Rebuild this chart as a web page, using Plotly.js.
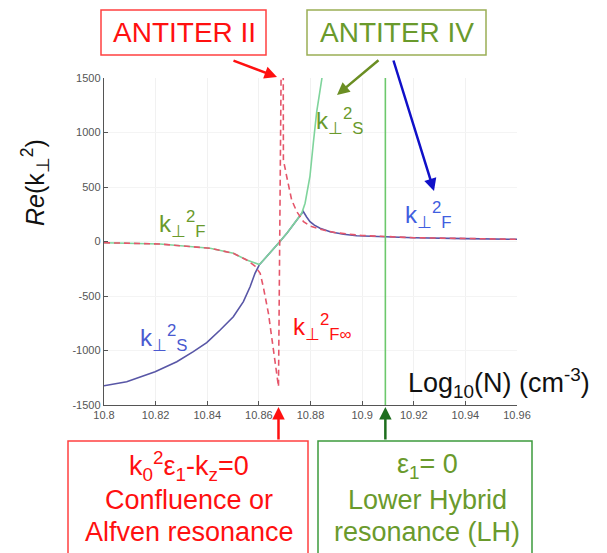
<!DOCTYPE html>
<html>
<head>
<meta charset="utf-8">
<script src="https://cdn.plot.ly/plotly-3.0.1.min.js"></script>
<style>html,body{margin:0;padding:0;background:#fff;}#chart{width:607px;height:553px;}</style>
</head>
<body>
<div id="chart"></div>
<script>
// ---- data ----
const blueX = [10.8, 10.8088, 10.8198, 10.8282, 10.8346, 10.8398, 10.845, 10.8501, 10.854, 10.8566, 10.8585, 10.8602, 10.862, 10.865, 10.868, 10.871, 10.874, 10.8755, 10.8772, 10.8785, 10.8798, 10.8815, 10.8837, 10.8876, 10.8928, 10.8979, 10.9083, 10.92, 10.94, 10.96];
const blueY = [-1323, -1286, -1194, -1103, -1011, -928, -812, -690, -552, -415, -292, -212, -165, -90, -5, 80, 180, 230, 275, 225, 182, 150, 121, 90, 66, 53, 44, 35, 26, 20];

const greenX = [10.8, 10.8217, 10.8411, 10.8501, 10.8553, 10.8592, 10.8602, 10.862, 10.865, 10.868, 10.871, 10.874, 10.8766, 10.8779, 10.8798, 10.8811, 10.8824, 10.8844, 10.886];
const greenY = [-11, -23, -62, -108, -170, -205, -212, -165, -90, -5, 80, 180, 259, 351, 600, 905, 1190, 1495, 1800];

const redX = [10.8, 10.8217, 10.8411, 10.8501, 10.8553, 10.8585, 10.8605, 10.8617, 10.8637, 10.8656, 10.8676, 10.8693, 10.8695, 10.8708, 10.8727, 10.8747, 10.8773, 10.88, 10.885, 10.89, 10.9, 10.92, 10.94, 10.96];
const redY = [-11, -23, -62, -108, -170, -225, -292, -415, -659, -965, -1332, 3500, 748, 594, 381, 273, 182, 140, 105, 80, 55, 35, 26, 20];

const lhX = [10.909, 10.909];
const lhY = [-1500, 1500];

const xTicks = [10.8, 10.82, 10.84, 10.86, 10.88, 10.9, 10.92, 10.94, 10.96];
const xTickText = ['10.8', '10.82', '10.84', '10.86', '10.88', '10.9', '10.92', '10.94', '10.96'];
const yTicks = [-1500, -1000, -500, 0, 500, 1000, 1500];
const yTickText = ['-1500', '-1000', '-500', '0', '500', '1000', '1500'];

const confluenceX = 10.8676;  // Alfven resonance position
const lhPos = 10.909;         // lower hybrid resonance position

// ---- layout helpers (pixel -> paper) ----
const L = 104, R = 517, T = 78, B = 405;
const W = R - L, H = B - T;
const px = x => (x - L) / W;
const py = y => (B - y) / H;

const FONT = 'Liberation Sans, Arial, sans-serif';
const RED = '#ff1010', OLIVE = '#6a9a2c', BLUE = '#3f5ee0', BLUE2 = '#4a5ad0';

const traces = [
  {x: blueX, y: blueY, mode: 'lines', line: {color: '#5856a6', width: 1.6}, hoverinfo: 'skip'},
  {x: greenX, y: greenY, mode: 'lines', line: {color: '#7fd49c', width: 1.6}, hoverinfo: 'skip'},
  {x: redX, y: redY, mode: 'lines', line: {color: '#e5566b', width: 1.6, dash: '6px,4px'}, hoverinfo: 'skip'},
  {x: lhX, y: lhY, mode: 'lines', line: {color: '#6cc86c', width: 1.6}, hoverinfo: 'skip'}
];

function label(text, x, y, color, size) {
  return {xref: 'paper', yref: 'paper', x: px(x), y: py(y), text: text, showarrow: false,
          xanchor: 'center', yanchor: 'middle', font: {family: FONT, size: size, color: color}};
}

const ann = [
  // curve labels
  label('k<sub>⊥</sub><sup>2</sup><sub>F</sub>', 182, 224, OLIVE, 24),
  label('k<sub>⊥</sub><sup>2</sup><sub>S</sub>', 340, 121, OLIVE, 24),
  label('k<sub>⊥</sub><sup>2</sup><sub>F</sub>', 428, 215, BLUE, 24),
  label('k<sub>⊥</sub><sup>2</sup><sub>S</sub>', 164, 338, BLUE2, 24),
  label('k<sub>⊥</sub><sup>2</sup><sub>F∞</sub>', 322, 327, RED, 24),
  // axis titles
  {xref: 'paper', yref: 'paper', x: px(406), y: py(383), xanchor: 'left', yanchor: 'middle', showarrow: false,
   text: 'Log<sub>10</sub>(N) (cm<sup>-3</sup>)', font: {family: FONT, size: 27, color: '#111'}},
  {xref: 'paper', yref: 'paper', x: px(35), y: py(183), xanchor: 'center', yanchor: 'middle', showarrow: false, textangle: -90,
   text: '<i>Re</i>(k<sub>⊥</sub><sup>2</sup>)', font: {family: FONT, size: 25, color: '#111'}},
  // top boxes text
  label('ANTITER II', 184, 32, RED, 28),
  label('ANTITER IV', 397, 32, OLIVE, 28),
  // bottom boxes text
  label('k<sub>0</sub><sup>2</sup>ε<sub>1</sub>-k<sub>z</sub>=0', 189, 466, RED, 27),
  label('Confluence or', 189, 500, RED, 27),
  label('Alfven resonance', 189, 532, RED, 27),
  label('ε<sub>1</sub>= 0', 427, 466, OLIVE, 27),
  label('Lower Hybrid', 427, 500, OLIVE, 27),
  label('resonance (LH)', 427, 532, OLIVE, 27),
  // top arrows
  {xref: 'paper', yref: 'paper', x: px(277), y: py(77), ax: -45, ay: -17, axref: 'pixel', ayref: 'pixel',
   text: '', showarrow: true, arrowhead: 2, arrowsize: 1, arrowwidth: 2.5, arrowcolor: '#ff1010'},
  {xref: 'paper', yref: 'paper', x: px(337), y: py(95), ax: 43, ay: -36, axref: 'pixel', ayref: 'pixel',
   text: '', showarrow: true, arrowhead: 2, arrowsize: 1, arrowwidth: 2.5, arrowcolor: '#6b8e23'},
  {xref: 'paper', yref: 'paper', x: px(434), y: py(191), ax: -41, ay: -132, axref: 'pixel', ayref: 'pixel',
   text: '', showarrow: true, arrowhead: 2, arrowsize: 1, arrowwidth: 2.5, arrowcolor: '#1010c8'},
  // bottom arrows
  {xref: 'x', yref: 'paper', x: confluenceX, y: py(407), ax: 0, ay: 34, axref: 'pixel', ayref: 'pixel',
   text: '', showarrow: true, arrowhead: 2, arrowsize: 1, arrowwidth: 2.5, arrowcolor: '#ff1010'},
  {xref: 'x', yref: 'paper', x: lhPos, y: py(407), ax: 0, ay: 34, axref: 'pixel', ayref: 'pixel',
   text: '', showarrow: true, arrowhead: 2, arrowsize: 1, arrowwidth: 2.5, arrowcolor: '#1e6e1e'}
];

function box(x0, y0, x1, y1, color, w) {
  return {type: 'rect', xref: 'paper', yref: 'paper', x0: px(x0), x1: px(x1), y0: py(y1), y1: py(y0),
          line: {color: color, width: w}, fillcolor: 'rgba(0,0,0,0)', layer: 'above'};
}

const shapes = [
  box(101, 10, 266, 55, '#ff4040', 1.5),
  box(307, 10, 486, 55, '#9aae55', 1.5),
  box(68, 441, 308, 600, '#ff4040', 1.5),
  box(318, 441, 532, 600, '#3c9a3c', 1.5)
];

const layout = {
  width: 607, height: 553,
  margin: {l: L, r: 607 - R, t: T, b: 553 - B, pad: 0},
  paper_bgcolor: '#ffffff', plot_bgcolor: '#ffffff',
  showlegend: false,
  font: {family: FONT, size: 11, color: '#555'},
  xaxis: {range: [10.8, 10.96], tickvals: xTicks, ticktext: xTickText, ticks: 'inside', ticklen: 4,
          tickcolor: '#555', showline: true, linecolor: '#555', linewidth: 1.2, showgrid: true,
          gridcolor: '#f1f1f1', zeroline: false, tickfont: {size: 11, color: '#555'}},
  yaxis: {range: [-1500, 1500], tickvals: yTicks, ticktext: yTickText, ticks: 'inside', ticklen: 4,
          tickcolor: '#555', showline: true, linecolor: '#555', linewidth: 1.2, showgrid: true,
          gridcolor: '#f4f4f4', zeroline: false, tickfont: {size: 11, color: '#555'}},
  annotations: ann,
  shapes: shapes
};

Plotly.newPlot('chart', traces, layout, {staticPlot: true, displayModeBar: false});
</script>
</body>
</html>
